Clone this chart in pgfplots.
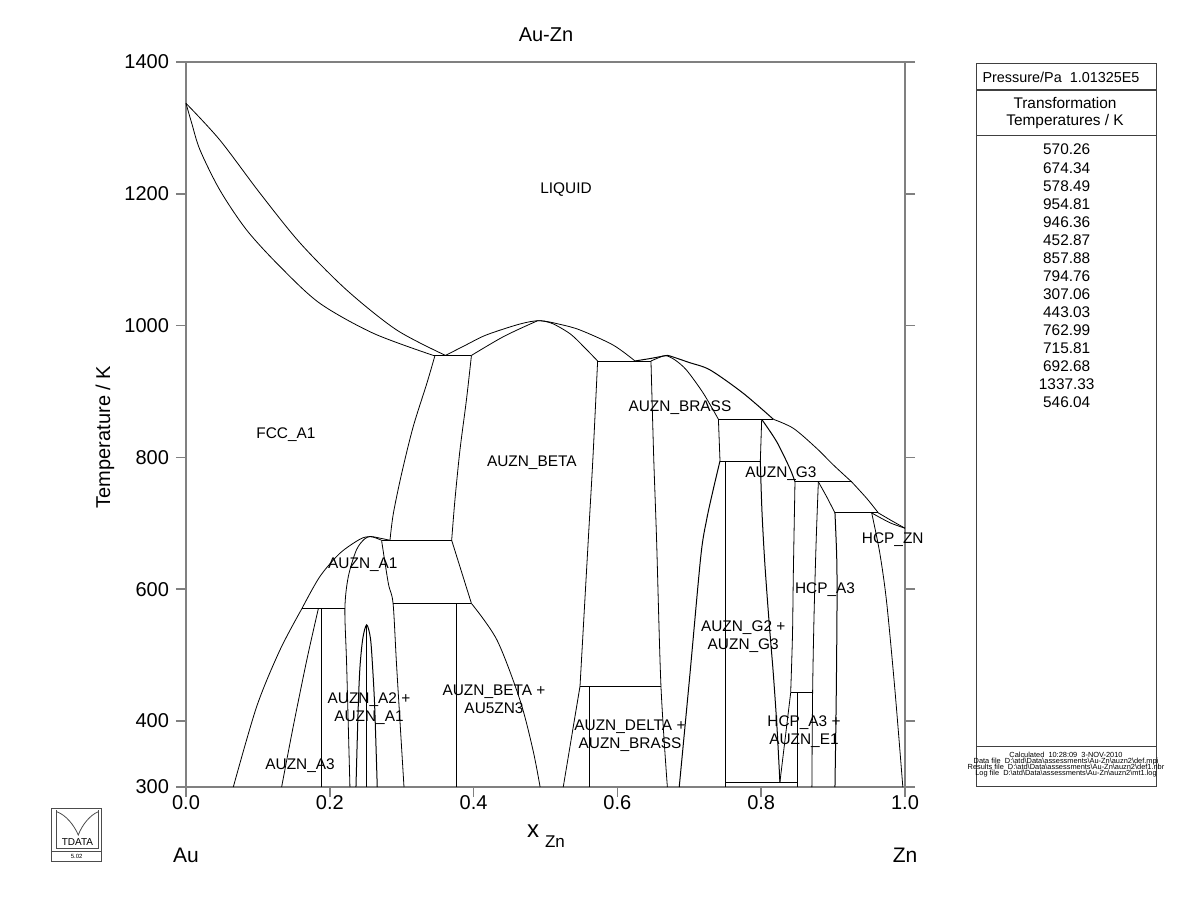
\documentclass[border=0pt]{standalone}
\usepackage{fontspec}
\setmainfont{Liberation Sans}
\usepackage{pgfplots}
\pgfplotsset{compat=1.18}
\begin{document}
\begin{tikzpicture}[lbl/.style={font=\fontsize{7.7}{8.85}\selectfont, align=center, inner sep=0pt}]
\begin{axis}[
  at={(0,0)}, anchor=south west,
  scale only axis, width=359.5pt, height=362.5pt,
  xmin=0, xmax=1, ymin=300, ymax=1400,
  clip=false,
  axis line style={draw=gray, line width=1pt},
  tick style={draw=gray, line width=0.8pt},
  tick align=outside, major tick length=5pt,
  xtick={0,0.2,0.4,0.6,0.8,1}, xticklabels={0.0,0.2,0.4,0.6,0.8,1.0},
  ytick={300,400,600,800,1000,1200,1400},
  xtick pos=lower, ytick pos=both, yticklabel pos=left,
  /pgf/number format/1000 sep={},
  /pgf/number format/assume math mode=true,
  tick label style={font=\fontsize{10}{12}\selectfont},
  xticklabel style={yshift=4.3pt},
  cycle list={{black, solid, line width=0.5pt, mark=none}},
]
% FCC liquidus and solidus
\addplot+[smooth] coordinates {(0,1337.33)(0.047,1281.7)(0.103,1200.8)(0.159,1125)(0.2235,1054)(0.293,993.4)(0.361,954.81)};
\addplot+[smooth] coordinates {(0,1337.33)(0.008,1307)(0.0195,1266.5)(0.047,1205.8)(0.0844,1145)(0.131,1089.4)(0.186,1034)(0.2605,988.4)(0.344,954.81)};
\addplot coordinates {(0.344,954.81)(0.397,954.81)};
% BETA liquidus / solidus
\addplot+[smooth] coordinates {(0.361,954.81)(0.39,971)(0.418,986)(0.4645,1002.5)(0.492,1007.5)(0.52,1002)(0.548,993.4)(0.594,970.6)(0.6245,946.36)};
\addplot+[smooth] coordinates {(0.397,954.81)(0.441,983)(0.483,1004.5)(0.492,1007.5)(0.51,1003)(0.535,987)(0.555,966)(0.5725,946.36)};
\addplot coordinates {(0.5725,946.36)(0.6467,946.36)};
% BRASS liquidus / solidus
\addplot+[smooth] coordinates {(0.6245,946.36)(0.6477,950.5)(0.664,953.9)(0.6676,954.5)(0.673,954)(0.70,944)(0.729,932.7)(0.775,897.4)(0.817,857.88)};
\addplot+[smooth] coordinates {(0.6467,946.36)(0.659,952)(0.6676,954.5)(0.68,948)(0.696,932.7)(0.7195,897.4)(0.7405,857.88)};
\addplot coordinates {(0.7405,857.88)(0.817,857.88)};
% G3 liquidus / solidus
\addplot+[smooth] coordinates {(0.817,857.88)(0.845,844)(0.877,814)(0.9,789)(0.9258,762.99)};
\addplot+[smooth] coordinates {(0.8007,857.88)(0.8215,824)(0.840,783)(0.847,762.99)};
\addplot coordinates {(0.847,762.99)(0.9258,762.99)};
% HCP_A3
\addplot+[smooth] coordinates {(0.9258,762.99)(0.9467,738)(0.963,715.81)};
\addplot+[smooth] coordinates {(0.8795,762.99)(0.891,740.5)(0.9026,715.81)};
\addplot coordinates {(0.9026,715.81)(0.963,715.81)};
% HCP_ZN
\addplot+[smooth] coordinates {(0.963,715.81)(0.9815,704)(1,692.68)};
\addplot+[smooth] coordinates {(0.9537,715.81)(0.979,701)(1,692.68)};
\addplot+[smooth] coordinates {(0.9537,715.81)(0.965,654.6)(0.9745,580)(0.986,447)(0.997,300)};
\addplot+[smooth] coordinates {(0.9026,715.81)(0.905,650)(0.9055,586)(0.9045,450)(0.9026,300)};
\addplot+[smooth] coordinates {(0.8795,762.99)(0.8765,675)(0.8735,560)(0.8715,443.03)(0.8705,300)};
% G3 boundaries
\addplot+[smooth] coordinates {(0.847,762.99)(0.8447,624)(0.8435,530)(0.841,443.03)};
\addplot coordinates {(0.841,443.03)(0.826,307.06)};
\addplot+[smooth] coordinates {(0.7988,794.76)(0.801,720)(0.805,640)(0.811,550)(0.8168,472.5)(0.822,390)(0.826,307.06)};
\addplot coordinates {(0.7427,794.76)(0.7988,794.76)};
\addplot coordinates {(0.7405,857.88)(0.7427,794.76)};
\addplot coordinates {(0.8007,857.88)(0.7988,794.76)};
\addplot coordinates {(0.7506,794.76)(0.7506,300)};
\addplot coordinates {(0.7506,307.06)(0.8497,307.06)};
\addplot coordinates {(0.8497,443.03)(0.8497,300)};
\addplot coordinates {(0.841,443.03)(0.8715,443.03)};
% BRASS lower boundaries
\addplot+[smooth] coordinates {(0.7427,794.76)(0.733,750)(0.724,705)(0.716,650)(0.701,472.5)(0.686,300)};
\addplot+[smooth] coordinates {(0.6467,946.36)(0.6505,800)(0.6545,675)(0.6606,452.87)(0.6695,300)};
% BETA right / DELTA
\addplot+[smooth] coordinates {(0.5725,946.36)(0.566,800)(0.5595,675)(0.548,452.87)};
\addplot coordinates {(0.548,452.87)(0.5247,300)};
\addplot coordinates {(0.548,452.87)(0.6606,452.87)};
\addplot coordinates {(0.561,452.87)(0.561,300)};
% BETA left, FCC right
\addplot+[smooth] coordinates {(0.397,954.81)(0.390,887)(0.381,811)(0.374,735)(0.3695,674.34)};
\addplot+[smooth] coordinates {(0.3463,954.81)(0.335,912.5)(0.316,846.7)(0.300,776)(0.2884,715)(0.2837,674.34)};
\addplot coordinates {(0.272,674.34)(0.3695,674.34)};
% A1 dome
\addplot+[smooth] coordinates {(0.161,570.26)(0.186,619)(0.214,654.6)(0.242,676)(0.256,680)(0.27,677.5)(0.2837,674.34)};
\addplot+[smooth] coordinates {(0.228,300)(0.2235,482.6)(0.221,570.26)(0.2257,619)(0.237,659.6)(0.248,676)(0.256,680)(0.265,677.5)(0.272,674.34)};
\addplot+[smooth] coordinates {(0.272,674.34)(0.2814,609)(0.288,578.49)(0.293,482.6)(0.3032,300)};
\addplot coordinates {(0.288,578.49)(0.397,578.49)};
\addplot coordinates {(0.3755,578.49)(0.3755,300)};
\addplot coordinates {(0.3695,674.34)(0.397,578.49)};
\addplot+[smooth] coordinates {(0.397,578.49)(0.4325,523)(0.4645,432)(0.4826,356)(0.4925,300)};
% A3 region
\addplot coordinates {(0.161,570.26)(0.221,570.26)};
\addplot+[smooth] coordinates {(0.161,570.26)(0.1307,507.9)(0.0983,422)(0.0658,300)};
\addplot+[smooth] coordinates {(0.184,570.26)(0.168,492.7)(0.149,391)(0.133,300)};
\addplot coordinates {(0.1887,570.26)(0.1887,300)};
% A2 dome
\addplot+[smooth] coordinates {(0.2364,300)(0.2395,420)(0.242,482.6)(0.246,526)(0.2513,546.04)(0.2565,526)(0.2595,482.6)(0.2625,420)(0.266,300)};
\addplot coordinates {(0.2513,546.04)(0.2513,300)};
% phase labels
\node[lbl] at (axis cs:0.5285,1205.8) {LIQUID};
\node[lbl] at (axis cs:0.139,834) {FCC\_A1};
\node[lbl] at (axis cs:0.481,791.6) {AUZN\_BETA};
\node[lbl] at (axis cs:0.687,875) {AUZN\_BRASS};
\node[lbl] at (axis cs:0.8275,776) {AUZN\_G3};
\node[lbl] at (axis cs:0.983,675) {HCP\_ZN};
\node[lbl] at (axis cs:0.246,637) {AUZN\_A1};
\node[lbl] at (axis cs:0.8887,599) {HCP\_A3};
\node[lbl] at (axis cs:0.775,527.6) {AUZN\_G2 +\\AUZN\_G3};
\node[lbl] at (axis cs:0.4284,433.6) {AUZN\_BETA +\\AU5ZN3};
\node[lbl] at (axis cs:0.2545,418.4) {AUZN\_A2 +\\AUZN\_A1};
\node[lbl] at (axis cs:0.6175,377.4) {AUZN\_DELTA +\\AUZN\_BRASS};
\node[lbl] at (axis cs:0.8595,383.5) {HCP\_A3 +\\AUZN\_E1};
\node[lbl] at (axis cs:0.1586,332) {AUZN\_A3};
\end{axis}
\begin{scope}[x=0.5pt, y=-0.5pt, shift={(-93pt,393.5pt)}]
\path[use as bounding box] (0,0) rectangle (1200,923);
\node[font=\fontsize{10}{12}\selectfont] at (546,35) {Au-Zn};
\node[font=\fontsize{10}{12}\selectfont, rotate=90] at (105,437) {Temperature / K};
\node[font=\fontsize{12}{14}\selectfont] at (533,831) {x};
\node[font=\fontsize{8.5}{10}\selectfont] at (555,842) {Zn};
\node[font=\fontsize{10.5}{12}\selectfont] at (186,855) {Au};
\node[font=\fontsize{10.5}{12}\selectfont] at (905,855) {Zn};
% right panel
\draw[black!75, line width=0.6pt] (976.7,63.3) rectangle (1156.7,786.7);
\draw[black!75, line width=0.6pt] (976.7,90) -- (1156.7,90);
\draw[black!75, line width=0.6pt] (976.7,135.7) -- (1156.7,135.7);
\draw[black!75, line width=0.6pt] (976.7,746.7) -- (1156.7,746.7);
\node[font=\fontsize{7.2}{9}\selectfont] at (1061,77.3) {Pressure/Pa\ \ 1.01325E5};
\node[align=center, font=\fontsize{7.7}{8.7}\selectfont] at (1065,113) {Transformation\\Temperatures / K};
\node[align=center, anchor=north, inner sep=0pt, font=\fontsize{7.7}{9.03}\selectfont] at (1066.7,143.8) {570.26\\674.34\\578.49\\954.81\\946.36\\452.87\\857.88\\794.76\\307.06\\443.03\\762.99\\715.81\\692.68\\1337.33\\546.04};
\node[align=center, inner sep=0pt, font={\fontsize{3.7}{3}\selectfont\lineskiplimit=-10pt}] at (1066,764.7) {Calculated\ \ 10:28:09\ \ 3-NOV-2010\\Data file\ \ D:\textbackslash atd\textbackslash Data\textbackslash assessments\textbackslash Au-Zn\textbackslash auzn2\textbackslash def.mpi\\Results file\ \ D:\textbackslash atd\textbackslash Data\textbackslash assessments\textbackslash Au-Zn\textbackslash auzn2\textbackslash def1.nbr\\Log file\ \ D:\textbackslash atd\textbackslash Data\textbackslash assessments\textbackslash Au-Zn\textbackslash auzn2\textbackslash mt1.log};
% logo
\draw[black!70, line width=0.4pt] (51.7,808.3) rectangle (101.7,861.7);
\draw[black!70, line width=0.4pt] (51.7,851.7) -- (101.7,851.7);
\draw[black!70, line width=0.4pt] (56.3,810) -- (56.3,848.3) -- (98.3,848.3) -- (98.3,810);
\draw[black!70, line width=0.4pt] (56.7,811.7) .. controls (66,815) and (74,825) .. (78.3,835) .. controls (82,825) and (90,815) .. (98.3,811.7);
\node[font=\fontsize{5}{6}\selectfont] at (77.5,842) {TDATA};
\node[font=\fontsize{3}{4}\selectfont] at (76.7,856.7) {5.02};
\end{scope}
\end{tikzpicture}
\end{document}
